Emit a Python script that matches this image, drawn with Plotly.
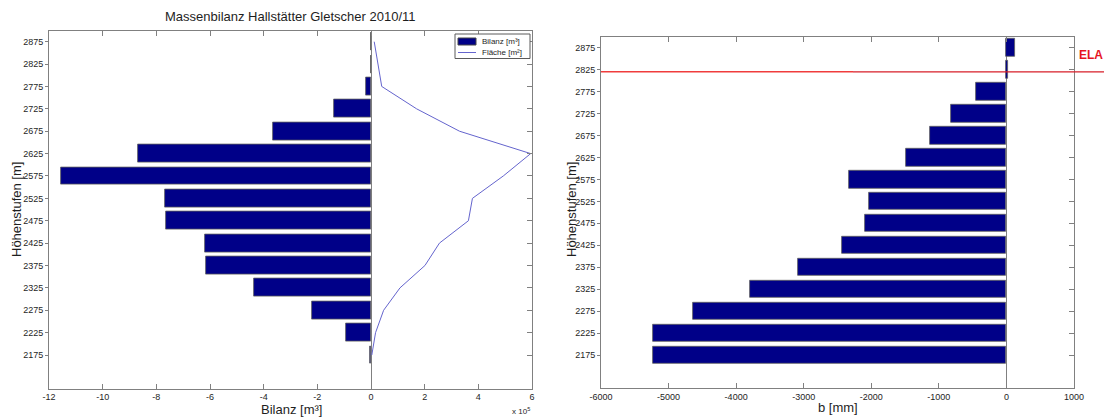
import plotly.graph_objects as go

# Elevation bands (centre of each 50 m band)
elevations = [2175, 2225, 2275, 2325, 2375, 2425, 2475, 2525,
              2575, 2625, 2675, 2725, 2775, 2825, 2875]

# Mass balance per band [m³]
bilanz_m3 = [-3000, -93000, -220000, -436000, -615000, -619000, -764000, -768000,
             -1157000, -868000, -367000, -138000, -19000, 800, 1600]

# Glacier area per band [m²]
flaeche_m2 = [3000, 17000, 47000, 108000, 201000, 255000, 363000, 378000,
              493000, 595000, 330000, 170000, 40000, 27000, 12000]

# Specific balance per band [mm w.e.]
b_mm = [-5230, -5230, -4640, -3790, -3090, -2430, -2090, -2040,
        -2330, -1480, -1130, -820, -455, 30, 130]

# Equilibrium line altitude [m]
ELA = 2820

SCALE = 1e5  # left axis shown as x 10^5
x_ticks_left = [-12, -10, -8, -6, -4, -2, 0, 2, 4, 6]
x_ticks_right = [-6000, -5000, -4000, -3000, -2000, -1000, 0, 1000]
y_ticks = elevations

W, H = 1104, 419
NAVY = "rgb(0,0,136)"
AXC = "rgb(128,128,128)"
TXT = "rgb(30,30,30)"
FONT = "Arial, Liberation Sans, sans-serif"
EDGE = dict(color="rgb(95,95,95)", width=0.8)


def px(x):
    return x / W


def py(y):
    return 1 - y / H


fig = go.Figure()

fig.add_trace(go.Bar(
    x=[v / SCALE for v in bilanz_m3], y=elevations, orientation="h", width=40,
    marker=dict(color=NAVY, line=EDGE),
    xaxis="x", yaxis="y", showlegend=False))
fig.add_trace(go.Scatter(
    x=[v / SCALE for v in flaeche_m2], y=elevations, mode="lines",
    line=dict(color="rgb(100,100,205)", width=1),
    xaxis="x", yaxis="y", showlegend=False))

fig.add_trace(go.Bar(
    x=b_mm, y=elevations, orientation="h", width=40,
    marker=dict(color=NAVY, line=EDGE),
    xaxis="x2", yaxis="y2", showlegend=False))

# empty traces that carry the right-hand tick axes
fig.add_trace(go.Scatter(x=[None], y=[None], xaxis="x", yaxis="y3",
                         showlegend=False, hoverinfo="skip"))
fig.add_trace(go.Scatter(x=[None], y=[None], xaxis="x2", yaxis="y4",
                         showlegend=False, hoverinfo="skip"))

dom_l = [px(49), px(532)]
dom_r = [px(601), px(1074)]
ydom_l = [py(388.6), py(30.5)]
ydom_r = [py(388), py(36.7)]

tickfont = dict(family=FONT, size=9, color=TXT)

xcommon = dict(showgrid=False, showline=True, linecolor=AXC, linewidth=1,
               ticks="inside", ticklen=5, tickcolor=AXC, mirror="ticks",
               zeroline=True, zerolinecolor=AXC, zerolinewidth=1,
               tickfont=tickfont, fixedrange=True, automargin=False)
ycommon = dict(showgrid=False, showline=True, linecolor=AXC, linewidth=1,
               ticks="outside", ticklen=3, tickcolor=AXC, mirror=True,
               zeroline=False, tickfont=tickfont, range=[2100, 2900],
               tickvals=y_ticks, ticktext=[str(v) for v in y_ticks],
               fixedrange=True, automargin=False)
ymirror = dict(showgrid=False, showline=False, zeroline=False,
               ticks="inside", ticklen=5, tickcolor=AXC, showticklabels=False,
               range=[2100, 2900], tickvals=y_ticks, side="right",
               automargin=False)

fig.update_layout(
    width=W, height=H,
    margin=dict(l=0, r=0, t=0, b=0, autoexpand=False),
    paper_bgcolor="white", plot_bgcolor="white",
    bargap=0,
    xaxis=dict(domain=dom_l, range=[-12, 6], tickvals=x_ticks_left,
               ticktext=[str(v) for v in x_ticks_left], anchor="y", **xcommon),
    yaxis=dict(domain=ydom_l, anchor="x", **ycommon),
    yaxis3=dict(overlaying="y", anchor="x", **ymirror),
    xaxis2=dict(domain=dom_r, range=[-6000, 1000], tickvals=x_ticks_right,
                ticktext=[str(v) for v in x_ticks_right], anchor="y2", **xcommon),
    yaxis2=dict(domain=ydom_r, anchor="x2", **ycommon),
    yaxis4=dict(overlaying="y2", anchor="x2", **ymirror),
)


def label(text, x, y, size, angle=0, xanchor="center", yref="paper", color=TXT):
    return dict(text=text, x=x, y=y, xref="paper", yref=yref, textangle=angle,
                xanchor=xanchor, yanchor="middle", showarrow=False,
                font=dict(family=FONT, size=size, color=color))


ann = [
    label("Massenbilanz Hallstätter Gletscher 2010/11", px(290), py(17), 13),
    label("Bilanz [m³]", px(291), py(409), 13),
    label("b [mm]", px(838), py(407), 13),
    label("Höhenstufen [m]", px(16), py(210), 13, angle=-90),
    label("Höhenstufen [m]", px(571), py(210), 13, angle=-90),
    label("x 10<sup>5</sup>", px(521), py(411), 8),
    label("<b>ELA</b>", px(1077), 2858, 12, xanchor="left", yref="y2",
          color="rgb(230,20,30)"),
    label("Bilanz [m³]", px(480), py(41.5), 8, xanchor="left"),
    label("Fläche [m²]", px(480), py(52.5), 8, xanchor="left"),
]

shapes = [
    # ELA line across the right panel and beyond
    dict(type="line", xref="paper", yref="y2", x0=px(601), x1=px(853),
         y0=ELA, y1=ELA, line=dict(color="rgb(240,60,60)", width=1.5)),
    dict(type="line", xref="paper", yref="y2", x0=px(853), x1=1,
         y0=ELA, y1=ELA, line=dict(color="rgb(215,30,40)", width=1.2)),
    # legend box
    dict(type="rect", xref="paper", yref="paper", x0=px(455), x1=px(530),
         y0=py(58.5), y1=py(34), line=dict(color="rgb(90,90,90)", width=1),
         fillcolor="white"),
    dict(type="rect", xref="paper", yref="paper", x0=px(458), x1=px(476),
         y0=py(45), y1=py(38), line=dict(color="rgb(70,70,70)", width=1),
         fillcolor=NAVY),
    dict(type="line", xref="paper", yref="paper", x0=px(458), x1=px(476),
         y0=py(52.5), y1=py(52.5), line=dict(color="rgb(100,100,205)", width=1)),
]

fig.update_layout(annotations=ann, shapes=shapes)

fig.write_html("out.html")
